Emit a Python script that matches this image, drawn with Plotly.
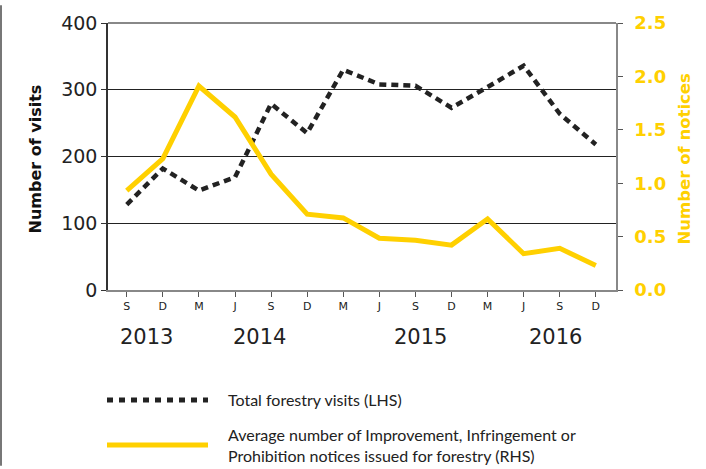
import plotly.graph_objects as go

# ---- data ----
quarters = ["S", "D", "M", "J", "S", "D", "M", "J", "S", "D", "M", "J", "S", "D"]
visits = [128, 182, 149, 169, 279, 235, 330, 308, 306, 273, 304, 336, 264, 218]
notices = [0.93, 1.23, 1.91, 1.62, 1.085, 0.71, 0.675, 0.485, 0.465, 0.42, 0.665, 0.34, 0.39, 0.23]
years = ["2013", "2014", "2015", "2016"]
year_pos = [0.55, 3.69, 8.13, 11.87]
legend_labels = ["Total forestry visits (LHS)",
                 "Average number of Improvement, Infringement or<br>Prohibition notices issued for forestry (RHS)"]

W, H = 706, 469
L, R, T, B = 108, 616, 18, 290
YELLOW = "#FFD000"
idx = list(range(len(quarters)))

def px(x):
    return (x - L) / (R - L)

def py(y):
    return (B - y) / (B - T)

fig = go.Figure()
fig.add_trace(go.Scatter(x=idx, y=notices, yaxis="y2", mode="lines",
                         line=dict(color=YELLOW, width=5), showlegend=False))
fig.add_trace(go.Scatter(x=idx, y=visits, mode="lines",
                         line=dict(color="#222222", width=4.5, dash="7px,5px"), showlegend=False))

fig.update_layout(
    width=W, height=H,
    margin=dict(l=L, r=W - R, t=T, b=H - B),
    plot_bgcolor="white", paper_bgcolor="white",
    xaxis=dict(range=[-0.52, 13.56], tickmode="array", tickvals=idx, ticktext=quarters,
               showgrid=False, zeroline=False, showline=True, linecolor="#888888", linewidth=2,
               ticks="outside", ticklen=5, tickcolor="#555555",
               tickfont=dict(family="DejaVu Sans", size=11, color="#222222")),
    yaxis=dict(range=[0, 400], tickvals=[0, 100, 200, 300, 400],
               showgrid=True, gridcolor="#222222", gridwidth=1, zeroline=False,
               showline=True, linecolor="#333333", linewidth=1.5,
               ticks="outside", ticklen=5, tickcolor="#333333",
               tickfont=dict(family="DejaVu Sans", size=19, color="#222222")),
    yaxis2=dict(range=[0, 2.5], tickvals=[0, 0.5, 1.0, 1.5, 2.0, 2.5], tickformat=".1f",
                overlaying="y", side="right", showgrid=False, zeroline=False,
                showline=True, linecolor="#888888", linewidth=1.5,
                ticks="outside", ticklen=5, tickcolor="#555555", ticklabelstandoff=8,
                tickfont=dict(family="DejaVu Sans", size=18, color=YELLOW, weight="bold")),
)

shapes = []
shapes.append(dict(type="line", xref="paper", yref="paper", x0=0, x1=1, y0=1, y1=1,
                   line=dict(color="#888888", width=2), layer="above"))
shapes.append(dict(type="line", xref="paper", yref="paper", x0=px(1), x1=px(1),
                   y0=py(H), y1=py(0), line=dict(color="#777777", width=2)))
shapes.append(dict(type="line", xref="paper", yref="paper", x0=px(107), x1=px(208),
                   y0=py(402), y1=py(402), line=dict(color="#222222", width=5, dash="6px,6px")))
shapes.append(dict(type="line", xref="paper", yref="paper", x0=px(107), x1=px(208),
                   y0=py(448), y1=py(448), line=dict(color=YELLOW, width=5)))

annotations = []
for yr, pos in zip(years, year_pos):
    annotations.append(dict(x=pos, y=py(338), xref="x", yref="paper", text=yr, showarrow=False,
                            font=dict(family="DejaVu Sans", size=21, color="#222222"),
                            xanchor="center", yanchor="middle"))
annotations.append(dict(x=px(35), y=py(157), xref="paper", yref="paper", text="Number of visits",
                        textangle=-90, showarrow=False,
                        font=dict(family="DejaVu Sans", size=16, color="#111111", weight="bold"),
                        xanchor="center", yanchor="middle"))
annotations.append(dict(x=px(684), y=py(157), xref="paper", yref="paper", text="Number of notices",
                        textangle=-90, showarrow=False,
                        font=dict(family="DejaVu Sans", size=16.5, color=YELLOW, weight="bold"),
                        xanchor="center", yanchor="middle"))
annotations.append(dict(x=px(226), y=py(402), xref="paper", yref="paper", text=legend_labels[0],
                        showarrow=False, align="left",
                        font=dict(family="Lato", size=16, color="#222222"),
                        xanchor="left", yanchor="middle"))
annotations.append(dict(x=px(226), y=py(447.5), xref="paper", yref="paper", text=legend_labels[1],
                        showarrow=False, align="left",
                        font=dict(family="Lato", size=16, color="#222222"),
                        xanchor="left", yanchor="middle"))

fig.update_layout(shapes=shapes, annotations=annotations)
fig.write_html("out.html", config={"displayModeBar": False},
               post_script="document.body.style.margin='0px';")
